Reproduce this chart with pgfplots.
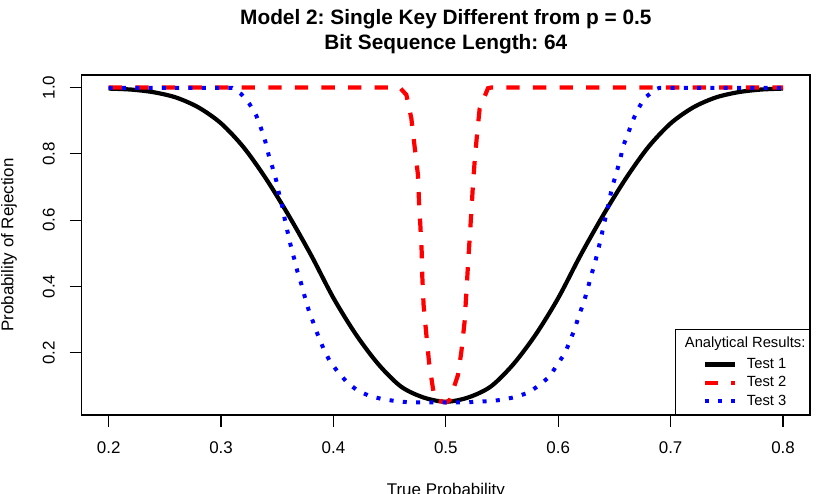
\documentclass[border=0pt]{standalone}
\usepackage{pgfplots}
\pgfplotsset{compat=1.18}
\usepackage{fontspec}
\setmainfont{Liberation Sans}
\frenchspacing

\newcommand\lgstrut{\rule[-5bp]{0pt}{18.3bp}}
\newcommand\lgtitlestrut{\rule[-8.2bp]{0pt}{21.5bp}}

\begin{document}
\begin{tikzpicture}
\begin{axis}[
  name=ax,
  scale only axis,
  width=728.3bp, height=340bp,
  xmin=0.176, xmax=0.824,
  ymin=0.012, ymax=1.038,
  xtick={0.2,0.3,0.4,0.5,0.6,0.7,0.8},
  ytick={0.2,0.4,0.6,0.8,1.0},
  /pgf/number format/assume math mode=true,
  xticklabel={\pgfmathprintnumber[fixed,fixed zerofill,precision=1]{\tick}},
  yticklabel={\pgfmathprintnumber[fixed,fixed zerofill,precision=1]{\tick}},
  tick label style={font=\fontsize{17}{20}\selectfont},
  xticklabel style={anchor=north, inner sep=0pt, yshift=-14bp},
  yticklabel style={xshift=-14.7bp, rotate=90, anchor=south, inner sep=0pt},
  tick align=outside,
  major tick length=12bp,
  xtick pos=left, ytick pos=left,
  axis line style={line width=1.2bp},
  every tick/.style={line width=1.2bp, black},
  legend image code/.code={\path[draw=none] (0bp,0bp) -- (55bp,0bp); \draw[#1] (25bp,0bp) -- (55bp,0bp);},
  legend cell align=left,
  legend style={at={(1,0)}, anchor=south east, draw=black, line width=1.2bp,
    inner xsep=4bp, inner ysep=4.2bp, column sep=10bp, row sep=0pt,
    font=\fontsize{14.8}{17}\selectfont,
    nodes={inner sep=0pt, text depth=}},
]

% legend heading
\addlegendimage{empty legend}
\addlegendentry{\hspace*{-62bp}Analytical Results:\lgtitlestrut}

% Test 1: solid black
\addplot[black, line width=4.2bp, smooth, tension=0.5] table {
0.20 0.997
0.22 0.994
0.24 0.986
0.26 0.970
0.28 0.940
0.30 0.892
0.32 0.820
0.34 0.725
0.36 0.615
0.38 0.495
0.40 0.365
0.42 0.255
0.44 0.165
0.46 0.098
0.48 0.065
0.50 0.052
0.52 0.065
0.54 0.098
0.56 0.165
0.58 0.255
0.60 0.365
0.62 0.495
0.64 0.615
0.66 0.725
0.68 0.820
0.70 0.892
0.72 0.940
0.74 0.970
0.76 0.986
0.78 0.994
0.80 0.997
};
\addlegendentry{Test 1\lgstrut}

% Test 2: dashed red
\addplot[red, line width=4.2bp, dash pattern=on 13.3bp off 13.3bp] table {
0.2000 1.000
0.4590 1.000
0.4649 0.978
0.4693 0.907
0.4722 0.822
0.4752 0.736
0.4761 0.656
0.4773 0.585
0.4785 0.505
0.4791 0.425
0.4802 0.344
0.4827 0.253
0.4850 0.173
0.4885 0.092
0.4905 0.057
0.5000 0.050
0.5034 0.057
0.5108 0.133
0.5138 0.203
0.5167 0.294
0.5183 0.384
0.5197 0.465
0.5212 0.545
0.5227 0.625
0.5241 0.706
0.5256 0.776
0.5277 0.857
0.5301 0.937
0.5375 0.998
0.5400 1.000
0.8000 1.000
};
\addlegendentry{Test 2\lgstrut}

% Test 3: dotted blue
\addplot[blue, line width=4bp, dash pattern=on 4bp off 9.3bp] table {
0.2000 0.999
0.3100 0.999
0.3181 0.980
0.3254 0.950
0.3314 0.915
0.3358 0.875
0.3394 0.837
0.3423 0.797
0.3456 0.761
0.3492 0.718
0.3515 0.681
0.3545 0.641
0.3569 0.599
0.3595 0.560
0.3622 0.520
0.3652 0.482
0.3681 0.443
0.3717 0.404
0.3747 0.366
0.3782 0.326
0.3824 0.288
0.3866 0.249
0.3913 0.211
0.3966 0.175
0.4037 0.143
0.4120 0.111
0.4209 0.087
0.4316 0.070
0.4435 0.060
0.4553 0.054
0.4678 0.050
0.5000 0.050
0.5178 0.050
0.5271 0.052
0.5390 0.054
0.5508 0.058
0.5627 0.067
0.5739 0.080
0.5835 0.103
0.5923 0.128
0.5989 0.163
0.6057 0.197
0.6102 0.233
0.6149 0.274
0.6184 0.312
0.6226 0.351
0.6259 0.389
0.6289 0.428
0.6324 0.468
0.6353 0.507
0.6380 0.545
0.6404 0.584
0.6433 0.625
0.6457 0.666
0.6484 0.704
0.6517 0.742
0.6552 0.784
0.6576 0.822
0.6620 0.860
0.6659 0.898
0.6713 0.937
0.6769 0.969
0.6873 0.996
0.6900 0.999
0.8000 0.999
};
\addlegendentry{Test 3\lgstrut}
\end{axis}

% titles and axis labels
\node[anchor=base, font=\bfseries\fontsize{20.9}{25}\selectfont]
  at ([yshift=50bp]ax.north) {Model 2: Single Key Different from p = 0.5};
\node[anchor=base, font=\bfseries\fontsize{20.9}{25}\selectfont]
  at ([yshift=25bp]ax.north) {Bit Sequence Length: 64};
\node[anchor=base, font=\fontsize{17}{20}\selectfont]
  at ([yshift=-80bp]ax.south) {True Probability};
\node[anchor=base, rotate=90, font=\fontsize{17}{20}\selectfont]
  at ([xshift=-68.2bp]ax.west) {Probability of Rejection};

\pgfresetboundingbox
\path[use as bounding box] ([xshift=-81.7bp, yshift=-79bp]ax.south west)
  rectangle ([xshift=8bp, yshift=75bp]ax.north east);
\end{tikzpicture}
\end{document}
